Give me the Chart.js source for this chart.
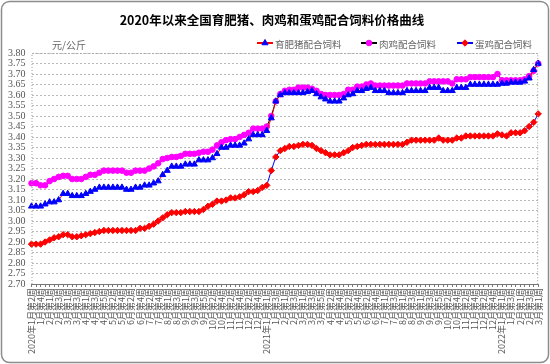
<!DOCTYPE html>
<html>
<head>
<meta charset="utf-8">
<script src="https://cdn.jsdelivr.net/npm/chart.js@4"></script>
<style>
  body { margin: 0; background: #fff; }
  canvas { display: block; }
</style>
</head>
<body>
<canvas id="feedChart" width="550" height="364"></canvas>
<script>
// weekly labels, 2020年1月第2周 .. 2022年3月第1周
const weekLabels = [
  "2020年1月第2周","1月第3周","1月第4周","1月第5周",
  "2月第1周","2月第2周","2月第3周","2月第4周",
  "3月第1周","3月第2周","3月第3周","3月第4周",
  "4月第1周","4月第2周","4月第3周","4月第4周","4月第5周",
  "5月第1周","5月第2周","5月第3周","5月第4周",
  "6月第1周","6月第2周","6月第3周","6月第4周",
  "7月第1周","7月第2周","7月第3周","7月第4周","7月第5周",
  "8月第1周","8月第2周","8月第3周","8月第4周",
  "9月第1周","9月第2周","9月第3周","9月第4周","9月第5周",
  "10月第1周","10月第2周","10月第3周","10月第4周",
  "11月第1周","11月第2周","11月第3周","11月第4周",
  "12月第1周","12月第2周","12月第3周","12月第4周","12月第5周",
  "2021年1月第1周","1月第2周","1月第3周","1月第4周",
  "2月第1周","2月第2周","2月第3周","2月第4周",
  "3月第1周","3月第2周","3月第3周","3月第4周","3月第5周",
  "4月第1周","4月第2周","4月第3周","4月第4周",
  "5月第1周","5月第2周","5月第3周","5月第4周",
  "6月第1周","6月第2周","6月第3周","6月第4周","6月第5周",
  "7月第1周","7月第2周","7月第3周","7月第4周",
  "8月第1周","8月第2周","8月第3周","8月第4周",
  "9月第1周","9月第2周","9月第3周","9月第4周","9月第5周",
  "10月第1周","10月第2周","10月第3周","10月第4周",
  "11月第1周","11月第2周","11月第3周","11月第4周",
  "12月第1周","12月第2周","12月第3周","12月第4周","12月第5周",
  "2022年1月第1周","1月第2周","1月第3周","1月第4周",
  "2月第1周","2月第2周","2月第3周","2月第4周",
  "3月第1周"
];

const seriesNames = ["育肥猪配合饲料", "肉鸡配合饲料", "蛋鸡配合饲料"];

const pigFeed = [
  3.07,3.07,3.07,3.08,3.09,3.09,3.10,3.13,3.13,3.12,
  3.12,3.12,3.13,3.14,3.15,3.16,3.16,3.16,3.16,3.16,
  3.16,3.15,3.15,3.16,3.16,3.17,3.17,3.18,3.19,3.22,
  3.24,3.26,3.26,3.26,3.27,3.27,3.27,3.29,3.29,3.29,
  3.30,3.32,3.35,3.35,3.36,3.36,3.36,3.37,3.39,3.41,
  3.41,3.41,3.43,3.49,3.57,3.60,3.61,3.61,3.61,3.61,
  3.61,3.615,3.62,3.605,3.59,3.58,3.57,3.57,3.57,3.585,
  3.60,3.605,3.62,3.62,3.63,3.635,3.62,3.62,3.62,3.61,
  3.61,3.61,3.61,3.62,3.62,3.62,3.62,3.62,3.635,3.635,
  3.635,3.62,3.62,3.62,3.635,3.635,3.635,3.65,3.65,3.65,
  3.65,3.65,3.65,3.65,3.655,3.655,3.66,3.66,3.66,3.665,
  3.68,3.72,3.75
];

const broilerFeed = [
  3.18,3.18,3.17,3.17,3.19,3.20,3.21,3.215,3.215,3.20,
  3.20,3.20,3.21,3.22,3.22,3.23,3.24,3.24,3.24,3.24,
  3.24,3.23,3.23,3.24,3.24,3.24,3.25,3.26,3.275,3.295,
  3.30,3.305,3.305,3.31,3.32,3.32,3.32,3.325,3.33,3.33,
  3.34,3.36,3.375,3.385,3.39,3.39,3.40,3.41,3.42,3.44,
  3.44,3.44,3.45,3.50,3.57,3.605,3.62,3.625,3.625,3.635,
  3.635,3.635,3.63,3.62,3.605,3.60,3.60,3.60,3.60,3.605,
  3.625,3.625,3.64,3.64,3.65,3.655,3.645,3.645,3.645,3.645,
  3.645,3.645,3.645,3.655,3.655,3.655,3.655,3.655,3.665,3.665,
  3.665,3.665,3.665,3.655,3.675,3.675,3.675,3.685,3.685,3.685,
  3.685,3.685,3.685,3.70,3.67,3.67,3.67,3.67,3.67,3.675,
  3.69,3.715,3.75
];

const layerFeed = [
  2.89,2.89,2.89,2.90,2.91,2.92,2.925,2.935,2.935,2.925,
  2.925,2.93,2.935,2.94,2.945,2.95,2.955,2.955,2.955,2.955,
  2.955,2.955,2.955,2.955,2.965,2.965,2.975,2.985,3.00,3.015,
  3.03,3.04,3.04,3.04,3.045,3.045,3.045,3.045,3.055,3.07,
  3.08,3.095,3.095,3.10,3.11,3.11,3.115,3.125,3.14,3.14,
  3.145,3.16,3.17,3.24,3.305,3.335,3.345,3.355,3.355,3.36,
  3.365,3.365,3.36,3.345,3.335,3.325,3.315,3.315,3.315,3.325,
  3.335,3.35,3.355,3.36,3.365,3.365,3.365,3.365,3.365,3.365,
  3.365,3.365,3.365,3.375,3.385,3.385,3.385,3.385,3.385,3.385,
  3.395,3.385,3.385,3.385,3.395,3.395,3.405,3.405,3.405,3.405,
  3.405,3.405,3.405,3.415,3.41,3.405,3.42,3.42,3.42,3.43,
  3.45,3.47,3.51
];

const yMin = 2.70;
const yMax = 3.80;
const yStep = 0.05;

const cjk = '"Noto Sans CJK SC", "Noto Sans", sans-serif';

// line colour / marker colour / marker shape per series (same as the legend)
const styles = [
  { line: "#ff0000", mark: "#0000ff", shape: "triangle", r: 3.5 },
  { line: "#000000", mark: "#ff00ff", shape: "circle", r: 2.8 },
  { line: "#0000ff", mark: "#ff0000", shape: "rectRot", r: 3.2 },
];

// frame, title, unit and legend
const decor = {
  id: "decor",
  beforeDraw(chart) {
    const c = chart.ctx;
    c.save();
    c.fillStyle = "#fff";
    c.fillRect(0, 0, chart.width, chart.height);
    c.strokeStyle = "#8c8c8c";
    c.lineWidth = 1.5;
    c.beginPath();
    c.roundRect(1.5, 1.5, chart.width - 3, chart.height - 3, 8);
    c.stroke();
    c.restore();
  },
  afterDraw(chart) {
    const c = chart.ctx;
    const a = chart.chartArea;
    c.save();
    // dotted frame round the plot
    c.strokeStyle = "#9a9a9a";
    c.lineWidth = 1;
    c.setLineDash([1, 2]);
    c.beginPath();
    c.moveTo(a.left + 0.5, a.bottom);
    c.lineTo(a.left + 0.5, a.top + 0.5);
    c.lineTo(a.right - 0.5, a.top + 0.5);
    c.lineTo(a.right - 0.5, a.bottom);
    c.stroke();
    c.setLineDash([]);

    c.fillStyle = "#000";
    c.font = "bold 12.5px " + cjk;
    c.textAlign = "center";
    c.textBaseline = "middle";
    c.fillText("2020年以来全国育肥猪、肉鸡和蛋鸡配合饲料价格曲线", 272, 20);

    c.fillStyle = "#666";
    c.font = "10px " + cjk;
    c.textAlign = "left";
    c.fillText("元/公斤", 52, 45);

    const legendX = [257, 361, 457];
    seriesNames.forEach((name, i) => {
      const s = styles[i];
      const x = legendX[i], y = 43;
      c.strokeStyle = s.line;
      c.lineWidth = 2;
      c.beginPath();
      c.moveTo(x, y);
      c.lineTo(x + 16, y);
      c.stroke();
      c.fillStyle = s.mark;
      c.strokeStyle = s.mark;
      c.lineWidth = 1;
      Chart.helpers.drawPoint(c, { pointStyle: s.shape, radius: s.r, rotation: 0, borderWidth: 1 }, x + 8, y);
      c.fillStyle = "#666";
      c.font = "9.5px " + cjk;
      c.fillText(name, x + 18, y + 1);
    });
    c.restore();
  }
};

const series = [pigFeed, broilerFeed, layerFeed];

new Chart(document.getElementById("feedChart"), {
  type: "line",
  data: {
    labels: weekLabels,
    datasets: series.map((values, i) => ({
      label: seriesNames[i],
      data: values,
      borderColor: styles[i].line,
      borderWidth: 1,
      backgroundColor: styles[i].mark,
      pointBackgroundColor: styles[i].mark,
      pointBorderColor: styles[i].mark,
      pointStyle: styles[i].shape,
      pointRadius: styles[i].r,
      pointBorderWidth: 1,
      tension: 0,
      fill: false,
    })),
  },
  options: {
    responsive: false,
    animation: false,
    events: [],
    layout: { padding: { top: 53, right: 11, bottom: 9, left: 2 } },
    plugins: {
      legend: { display: false },
      title: { display: false },
      tooltip: { enabled: false },
    },
    scales: {
      x: {
        offset: false,
        grid: { drawOnChartArea: false, tickLength: 3, color: "#777" },
        border: { color: "#777" },
        ticks: {
          autoSkip: false,
          maxRotation: 90,
          minRotation: 90,
          padding: 1,
          color: "#555",
          font: { size: 9, family: cjk },
          callback: (v, i) => (i % 2 === 0 ? weekLabels[i] : ""),
        },
      },
      y: {
        min: yMin,
        max: yMax,
        grid: { color: "#b8b8b8", drawTicks: false },
        border: { display: false, dash: [2, 2] },
        ticks: {
          autoSkip: false,
          stepSize: yStep,
          padding: 6,
          color: "#555",
          font: { size: 10, family: '"Liberation Serif", serif' },
          callback: (v) => v.toFixed(2),
        },
      },
    },
  },
  plugins: [decor],
});
</script>
</body>
</html>
